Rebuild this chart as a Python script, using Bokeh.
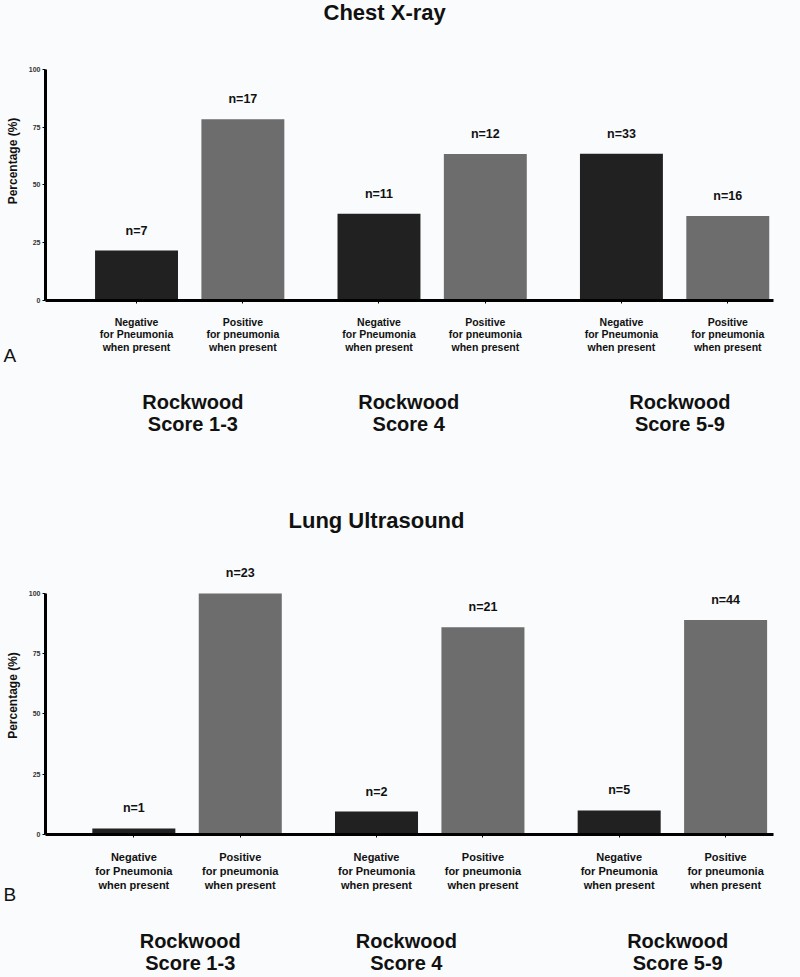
from bokeh.plotting import figure
from bokeh.models import Range1d, LinearAxis, FixedTicker, Title, ColumnDataSource
from bokeh.layouts import column
from bokeh.embed import file_html
from bokeh.resources import INLINE
from bokeh.core.properties import value

# ---------------- data ----------------
groups = ["Rockwood\nScore 1-3", "Rockwood\nScore 4", "Rockwood\nScore 5-9"]
subcats = ["Negative\nfor Pneumonia\nwhen present", "Positive\nfor pneumonia\nwhen present"]

xray_negative = [21.6, 37.5, 63.5]
xray_positive = [78.4, 63.4, 36.6]
xray_n_negative = [7, 11, 33]
xray_n_positive = [17, 12, 16]

lus_negative = [2.5, 9.5, 10.0]
lus_positive = [100.0, 86.0, 89.0]
lus_n_negative = [1, 2, 5]
lus_n_positive = [23, 21, 44]

y_ticks = [0, 25, 50, 75, 100]

# ---------------- layout / style ----------------
GROUP_GAP = 0.28
BAR_WIDTH = 0.78
group_label_shift = [0.03, -0.22, 0.05]
BG = "#f9fbfc"
DARK = "#212121"
GREY = "#6d6d6d"
FONT = "Liberation Sans"


def xpos(gi, si):
    return gi * (2 + GROUP_GAP) + si


def make_panel(title, neg, pos, nneg, npos, letter, width, height,
               border_top, border_bottom, border_right, y_end, x_start, x_end,
               title_standoff, title_offset, sub_font, sub_lh, sub_standoff,
               grp_standoff, grp_lh, letter_standoff):
    xs, tops, colors, labels = [], [], [], []
    for gi in range(len(groups)):
        for si, (vals, ns, col) in enumerate([(neg, nneg, DARK), (pos, npos, GREY)]):
            xs.append(xpos(gi, si))
            tops.append(vals[gi])
            colors.append(col)
            labels.append("n=%d" % ns[gi])
    src = ColumnDataSource(dict(x=xs, top=tops, color=colors, label=labels))

    p = figure(width=width, height=height,
               x_range=Range1d(x_start, x_end), y_range=Range1d(0, y_end),
               output_backend="svg", toolbar_location=None,
               background_fill_color=BG, border_fill_color=BG,
               outline_line_color=None,
               min_border_left=45, min_border_right=border_right,
               min_border_top=border_top, min_border_bottom=border_bottom)
    p.grid.visible = False

    p.title.text = title
    p.title.align = "left"
    p.title.offset = title_offset
    p.title.text_font = FONT
    p.title.text_font_size = "22px"
    p.title.text_font_style = "bold"
    p.title.text_color = "#111111"
    p.title.standoff = title_standoff

    p.vbar(x="x", top="top", bottom=0, width=BAR_WIDTH, fill_color="color",
           line_color=None, source=src)
    p.text(x="x", y="top", text="label", source=src, text_align="center",
           text_baseline="bottom", y_offset=-13, text_font=value(FONT),
           text_font_style="bold", text_font_size="12.5px", text_color="#111111")

    # y axis
    ya = p.yaxis[0]
    ya.ticker = FixedTicker(ticks=y_ticks)
    ya.bounds = (0, 100)
    ya.axis_line_width = 3
    ya.axis_line_color = "#000000"
    ya.major_tick_out = 3
    ya.major_tick_in = 0
    ya.major_tick_line_width = 1
    ya.minor_tick_line_color = None
    ya.major_label_standoff = 2
    ya.major_label_text_font = FONT
    ya.major_label_text_font_size = "7px"
    ya.major_label_text_font_style = "bold"
    ya.major_label_text_color = "#333333"
    ya.axis_label = "Percentage (%)"
    ya.axis_label_text_font = FONT
    ya.axis_label_text_font_size = "12px"
    ya.axis_label_text_font_style = "bold"
    ya.axis_label_text_color = "#111111"
    ya.axis_label_standoff = 6

    # x axis with bar labels
    xa = p.xaxis[0]
    bar_x = [xpos(gi, si) for gi in range(len(groups)) for si in range(len(subcats))]
    xa.ticker = FixedTicker(ticks=bar_x)
    xa.major_label_overrides = {x: subcats[i % 2] for i, x in enumerate(bar_x)}
    xa.axis_line_width = 3
    xa.axis_line_color = "#000000"
    xa.major_tick_out = 3
    xa.major_tick_in = 0
    xa.minor_tick_line_color = None
    xa.major_label_standoff = sub_standoff
    xa.major_label_text_font = FONT
    xa.major_label_text_font_size = sub_font
    xa.major_label_text_font_style = "bold"
    xa.major_label_text_color = "#111111"
    xa.major_label_text_line_height = sub_lh

    # panel letter (A / B), placed just below the bar labels, left of the axis
    p.add_layout(Title(text=letter, align="left", offset=-42,
                       vertical_align="top", standoff=letter_standoff,
                       text_font=FONT, text_font_size="19px",
                       text_font_style="normal", text_color="#111111"), "below")

    # second x axis for group labels
    grp_x = [xpos(gi, 0) + 0.5 + group_label_shift[gi] for gi in range(len(groups))]
    ga = LinearAxis(ticker=FixedTicker(ticks=grp_x),
                    major_label_overrides={x: groups[i] for i, x in enumerate(grp_x)})
    ga.axis_line_color = None
    ga.major_tick_line_color = None
    ga.minor_tick_line_color = None
    ga.major_tick_out = 0
    ga.major_tick_in = 0
    ga.major_label_standoff = grp_standoff
    ga.major_label_text_font = FONT
    ga.major_label_text_font_size = "20px"
    ga.major_label_text_font_style = "bold"
    ga.major_label_text_color = "#111111"
    ga.major_label_text_line_height = grp_lh
    p.add_layout(ga, "below")
    return p


top = make_panel("Chest X-ray", xray_negative, xray_positive, xray_n_negative,
                 xray_n_positive, "A", width=800, height=470,
                 border_top=20, border_bottom=170, border_right=27,
                 y_end=120.7, x_start=-0.856, x_end=5.99,
                 title_standoff=-6, title_offset=278,
                 sub_font="10.5px", sub_lh=1.05, sub_standoff=12,
                 grp_standoff=34, grp_lh=1.0, letter_standoff=-22)

bottom = make_panel("Lung Ultrasound", lus_negative, lus_positive, lus_n_negative,
                    lus_n_positive, "B", width=800, height=507,
                    border_top=86, border_bottom=143, border_right=0,
                    y_end=115.3, x_start=-0.83, x_end=6.01,
                    title_standoff=48, title_offset=243,
                    sub_font="11px", sub_lh=1.2, sub_standoff=13,
                    grp_standoff=34, grp_lh=1.0, letter_standoff=-22)

layout = column(top, bottom, spacing=0)
layout.styles = {"background-color": BG}
open("out.html", "w").write(file_html(layout, INLINE))
